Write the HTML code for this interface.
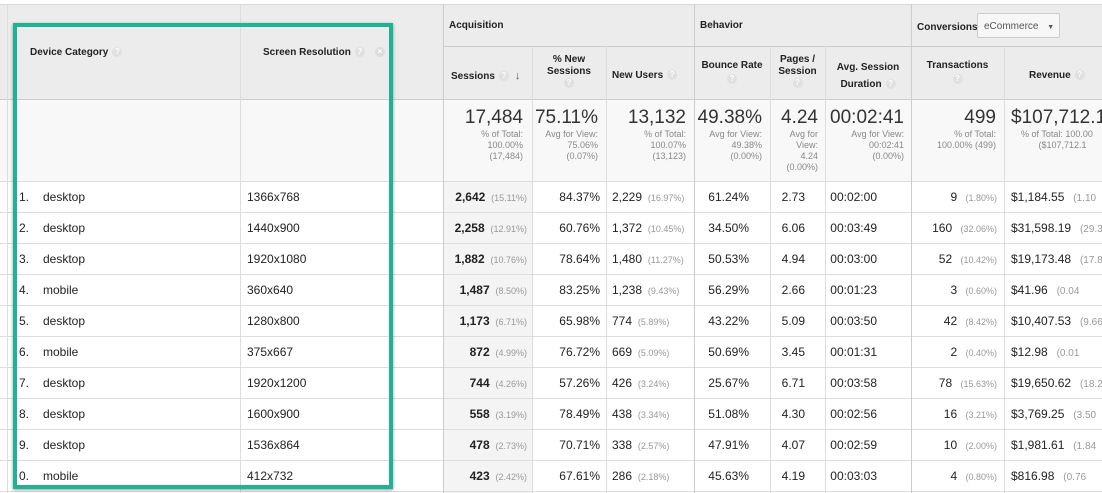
<!DOCTYPE html>
<html><head><meta charset="utf-8"><style>
body{margin:0;width:1102px;height:493px;overflow:hidden;background:#fff;font-family:"Liberation Sans",Arial,sans-serif;color:#222;position:relative}
.a{position:absolute}
.vl{position:absolute;width:1px;background:#ddd}
.hl{position:absolute;height:1px;background:#ddd;left:0;width:1102px}
.h{font-size:10px;font-weight:bold;color:#222}
.q{display:inline-block;width:10px;height:10px;border-radius:50%;background:#e0e0e0;color:#fff;font-size:8px;line-height:10px;text-align:center;vertical-align:middle;margin-left:4px}
.big{font-size:19px;color:#333;text-align:right}
.sm{font-size:9px;color:#888;text-align:right;line-height:11px}
.r{font-size:12px;color:#222;white-space:nowrap}
.g{color:#999;font-size:9px}
</style></head><body>
<div class="a" style="left:0;top:4px;width:1102px;height:95px;background:#ececec"></div>
<div class="a" style="left:0;top:99px;width:1102px;height:82px;background:#f8f8f8"></div>
<div class="a" style="left:443px;top:181px;width:89px;height:312px;background:#f4f4f4"></div>
<div class="hl" style="top:4px;background:#d8d8d8"></div>
<div class="hl" style="top:99px;background:#ccc"></div>
<div class="hl" style="top:181px"></div>
<div class="hl" style="top:212px"></div><div class="hl" style="top:243px"></div><div class="hl" style="top:274px"></div><div class="hl" style="top:305px"></div><div class="hl" style="top:336px"></div><div class="hl" style="top:367px"></div><div class="hl" style="top:398px"></div><div class="hl" style="top:429px"></div><div class="hl" style="top:460px"></div><div class="hl" style="top:491px"></div>
<div class="a" style="left:443px;top:46px;width:659px;height:1px;background:#ccc"></div>
<div class="vl" style="left:7px;top:4px;height:489px"></div>
<div class="vl" style="left:240px;top:4px;height:489px"></div>
<div class="vl" style="left:443px;top:4px;height:489px;background:#ccc"></div>
<div class="vl" style="left:532px;top:46px;height:447px"></div>
<div class="vl" style="left:606px;top:46px;height:447px"></div>
<div class="vl" style="left:694px;top:4px;height:489px;background:#ccc"></div>
<div class="vl" style="left:770px;top:46px;height:447px"></div>
<div class="vl" style="left:825px;top:46px;height:447px"></div>
<div class="vl" style="left:911px;top:4px;height:489px;background:#ccc"></div>
<div class="vl" style="left:1004px;top:46px;height:447px"></div>

<div class="a h" style="left:30px;top:47px">Device Category<span class="q">?</span></div>
<div class="a h" style="left:263px;top:47px">Screen Resolution<span class="q">?</span><span class="q" style="margin-left:10px;background:#ddd">×</span></div>
<div class="a h" style="left:449px;top:20px">Acquisition</div>
<div class="a h" style="left:700px;top:20px">Behavior</div>
<div class="a h" style="left:917px;top:22px">Conversions</div>
<div class="a" style="left:977px;top:13px;width:83px;height:25px;border:1px solid #ccc;border-radius:2px;background:#f7f7f7;font-size:10px;color:#555;line-height:25px;padding-left:6px;box-sizing:border-box">eCommerce <span style="font-size:7px;margin-left:6px">▼</span></div>
<div class="a h" style="left:451px;top:70px">Sessions<span class="q">?</span><span style="margin-left:6px;color:#555;font-size:11px">↓</span></div>
<div class="a h" style="left:532px;top:54px;width:74px;text-align:center;line-height:12px">% New<br>Sessions<br><span class="q" style="margin:0">?</span></div>
<div class="a h" style="left:612px;top:70px">New Users<span class="q">?</span></div>
<div class="a h" style="left:694px;top:59px;width:76px;text-align:center;line-height:14px">Bounce Rate<br><span class="q" style="margin:0">?</span></div>
<div class="a h" style="left:770px;top:54px;width:55px;text-align:center;line-height:12px">Pages /<br>Session<br><span class="q" style="margin:0">?</span></div>
<div class="a h" style="left:825px;top:59px;width:86px;text-align:center;line-height:17px">Avg. Session<br>Duration<span class="q">?</span></div>
<div class="a h" style="left:911px;top:59px;width:93px;text-align:center;line-height:14px">Transactions<br><span class="q" style="margin:0">?</span></div>
<div class="a h" style="left:1029px;top:70px">Revenue<span class="q">?</span></div>

<div class="a" style="left:443px;top:107px;width:80px"><div class="big">17,484</div><div class="sm">% of Total:<br>100.00%<br>(17,484)</div></div>
<div class="a" style="left:532px;top:107px;width:66px"><div class="big">75.11%</div><div class="sm">Avg for View:<br>75.06%<br>(0.07%)</div></div>
<div class="a" style="left:606px;top:107px;width:80px"><div class="big">13,132</div><div class="sm">% of Total:<br>100.07%<br>(13,123)</div></div>
<div class="a" style="left:694px;top:107px;width:68px"><div class="big">49.38%</div><div class="sm">Avg for View:<br>49.38%<br>(0.00%)</div></div>
<div class="a" style="left:770px;top:107px;width:48px"><div class="big">4.24</div><div class="sm">Avg for<br>View:<br>4.24<br>(0.00%)</div></div>
<div class="a" style="left:825px;top:107px;width:79px"><div class="big">00:02:41</div><div class="sm">Avg for View:<br>00:02:41<br>(0.00%)</div></div>
<div class="a" style="left:911px;top:107px;width:85px"><div class="big">499</div><div class="sm">% of Total:<br>100.00% (499)</div></div>
<div class="a" style="left:1011px;top:107px;width:130px"><div class="big" style="text-align:left">$107,712.1</div><div class="sm" style="text-align:left;padding-left:10px">% of Total: 100.00<br>&nbsp;&nbsp;&nbsp;&nbsp;&nbsp;&nbsp;&nbsp;($107,712.1</div></div>

<div id="rows"></div>
<script>
var d=[["1.","desktop","1366x768","2,642","15.11%","84.37%","2,229","16.97%","61.24%","2.73","00:02:00","9","1.80%","$1,184.55","(1.10"],
["2.","desktop","1440x900","2,258","12.91%","60.76%","1,372","10.45%","34.50%","6.06","00:03:49","160","32.06%","$31,598.19","(29.34"],
["3.","desktop","1920x1080","1,882","10.76%","78.64%","1,480","11.27%","50.53%","4.94","00:03:00","52","10.42%","$19,173.48","(17.80"],
["4.","mobile","360x640","1,487","8.50%","83.25%","1,238","9.43%","56.29%","2.66","00:01:23","3","0.60%","$41.96","(0.04"],
["5.","desktop","1280x800","1,173","6.71%","65.98%","774","5.89%","43.22%","5.09","00:03:50","42","8.42%","$10,407.53","(9.66"],
["6.","mobile","375x667","872","4.99%","76.72%","669","5.09%","50.69%","3.45","00:01:31","2","0.40%","$12.98","(0.01"],
["7.","desktop","1920x1200","744","4.26%","57.26%","426","3.24%","25.67%","6.71","00:03:58","78","15.63%","$19,650.62","(18.24"],
["8.","desktop","1600x900","558","3.19%","78.49%","438","3.34%","51.08%","4.30","00:02:56","16","3.21%","$3,769.25","(3.50"],
["9.","desktop","1536x864","478","2.73%","70.71%","338","2.57%","47.91%","4.07","00:02:59","10","2.00%","$1,981.61","(1.84"],
["0.","mobile","412x732","423","2.42%","67.61%","286","2.18%","45.63%","4.19","00:03:03","4","0.80%","$816.98","(0.76"]];
var h="";
d.forEach(function(r,i){var t=181+31*i+9;
function R(l,w,s){return '<div class="a r" style="left:'+l+'px;top:'+t+'px;width:'+w+'px;text-align:right">'+s+'</div>';}
h+='<div class="a r" style="left:19px;top:'+t+'px">'+r[0]+'</div><div class="a r" style="left:43px;top:'+t+'px">'+r[1]+'</div><div class="a r" style="left:247px;top:'+t+'px">'+r[2]+'</div>';
h+=R(443,84,'<b>'+r[3]+'</b> <span class="g">&nbsp;('+r[4]+')</span>');
h+=R(532,68,r[5]);
h+='<div class="a r" style="left:612px;top:'+t+'px">'+r[6]+' <span class="g">&nbsp;('+r[7]+')</span></div>';
h+=R(694,55,r[8]);h+=R(770,35,r[9]);h+=R(825,52,r[10]);
h+=R(911,86,r[11]+' <span class="g">&nbsp;&nbsp;('+r[12]+')</span>');
h+='<div class="a r" style="left:1011px;top:'+t+'px">'+r[13]+' <span class="g" style="font-size:10px">&nbsp;&nbsp;'+r[14]+'</span></div>';
});
document.getElementById("rows").innerHTML=h;
</script>
<div class="a" style="left:13px;top:23px;width:380px;height:466px;border:4px solid #1db394;box-sizing:border-box;box-shadow:0 1px 3px rgba(0,0,0,.4)"></div>
</body></html>
